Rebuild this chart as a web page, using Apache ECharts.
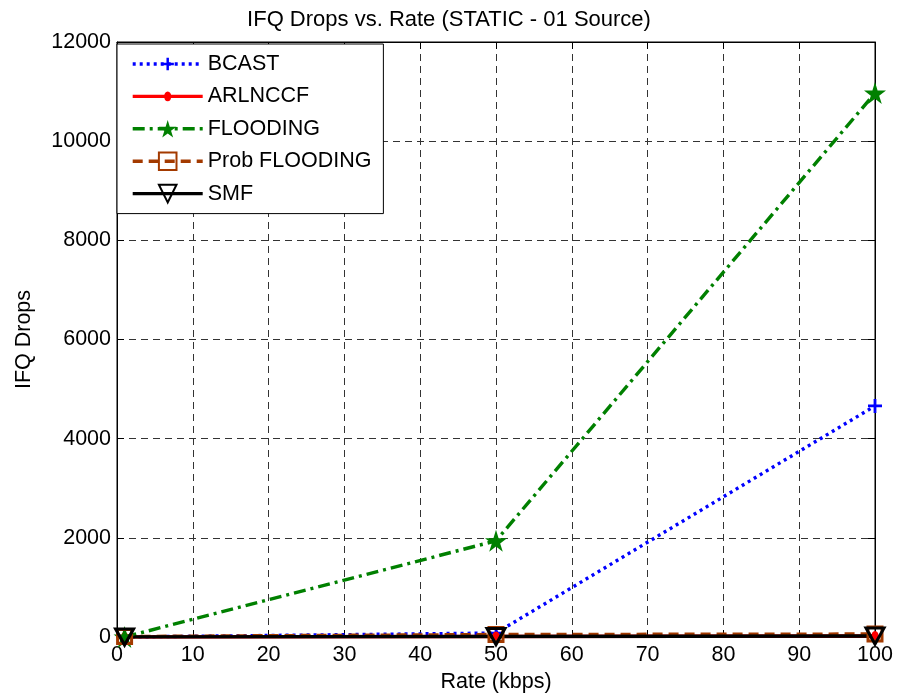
<!DOCTYPE html>
<html>
<head>
<meta charset="utf-8">
<title>IFQ Drops vs. Rate</title>
<script src="https://cdn.jsdelivr.net/npm/echarts@6/dist/echarts.min.js"></script>
<style>
  html, body { margin: 0; padding: 0; background: #fff; }
  #chart { width: 898px; height: 698px; }
</style>
</head>
<body>
<div id="chart"></div>
<script>
// Rate values (kbps) at which drops were measured
const rates = [1, 50, 100];

// IFQ drop counts per protocol
const bcast = [0, 80, 4660];
const arlnccf = [0, 10, 20];
const flooding = [0, 1940, 10970];
const probFlooding = [10, 50, 60];
const smf = [0, 10, 20];

const xTicks = { min: 0, max: 100, interval: 10 };
const yTicks = { min: 0, max: 12000, interval: 2000 };

const FONT = 'Liberation Sans, Arial, sans-serif';
const FS = 21.5;
const LW = 3.4;

// Marker shapes (the extra move-to points pad the bounding box so the
// visible glyph stays small relative to the symbol size)
const plusPath = 'path://M-10,-10M10,10M-1.4,-7H1.4V-1.4H7V1.4H1.4V7H-1.4V1.4H-7V-1.4H-1.4Z';
const dotPath = 'path://M-10,-10M10,10M0,-5.5C2.6,-5.5 4,-3 4,0C4,3 2.6,5.5 0,5.5C-2.6,5.5 -4,3 -4,0C-4,-3 -2.6,-5.5 0,-5.5Z';
const starPath = (function () {
  const pts = [];
  for (let i = 0; i < 10; i++) {
    const r = i % 2 === 0 ? 10 : 3.8;
    const a = -Math.PI / 2 + i * Math.PI / 5;
    pts.push((r * Math.cos(a)).toFixed(3) + ',' + (r * Math.sin(a)).toFixed(3));
  }
  return 'path://M' + pts.join('L') + 'Z';
})();

function pairs(ys) {
  return rates.map((x, i) => [x, ys[i]]);
}

const chart = echarts.init(document.getElementById('chart'), null, { renderer: 'canvas' });

const axisCommon = {
  axisLine: { show: true, onZero: false, lineStyle: { color: '#000', width: 1 } },
  axisTick: { show: true, inside: true, length: 7, lineStyle: { color: '#000' } },
};

chart.setOption({
  animation: false,
  backgroundColor: '#fff',
  textStyle: { fontFamily: FONT },
  title: {
    text: 'IFQ Drops vs. Rate (STATIC - 01 Source)',
    left: 'center',
    top: 4,
    textStyle: { fontFamily: FONT, fontSize: 22, fontWeight: 'normal', color: '#000' }
  },
  grid: {
    left: 117, right: 23, top: 42, bottom: 61,
    show: true, borderColor: '#000', borderWidth: 1, backgroundColor: '#fff'
  },
  legend: {
    orient: 'vertical',
    left: 117,
    top: 44,
    padding: [9, 12, 9, 14],
    itemWidth: 70,
    itemHeight: 22,
    itemGap: 10.4,
    lineStyle: { width: LW },
    backgroundColor: '#fff',
    borderColor: '#000',
    borderWidth: 1,
    textStyle: { fontFamily: FONT, fontSize: FS, color: '#000', lineHeight: 22 },
    data: ['BCAST', 'ARLNCCF', 'FLOODING', 'Prob FLOODING', 'SMF']
  },
  xAxis: [
    Object.assign({
      type: 'value', position: 'bottom',
      min: xTicks.min, max: xTicks.max, interval: xTicks.interval,
      name: 'Rate (kbps)', nameLocation: 'middle', nameGap: 34,
      nameTextStyle: { fontFamily: FONT, fontSize: FS, color: '#000' },
      axisLabel: { color: '#000', fontFamily: FONT, fontSize: FS, margin: 7 },
      splitLine: { show: true, lineStyle: { color: '#333', width: 1, type: [7, 5] } }
    }, axisCommon),
    Object.assign({
      type: 'value', position: 'top',
      min: xTicks.min, max: xTicks.max, interval: xTicks.interval,
      axisLabel: { show: false }, splitLine: { show: false }
    }, axisCommon)
  ],
  yAxis: [
    Object.assign({
      type: 'value', position: 'left',
      min: yTicks.min, max: yTicks.max, interval: yTicks.interval,
      name: 'IFQ Drops', nameLocation: 'middle', nameGap: 82,
      nameTextStyle: { fontFamily: FONT, fontSize: FS, color: '#000' },
      axisLabel: { color: '#000', fontFamily: FONT, fontSize: FS, margin: 6, formatter: v => String(v) },
      splitLine: { show: true, lineStyle: { color: '#333', width: 1, type: [7, 5] } }
    }, axisCommon),
    Object.assign({
      type: 'value', position: 'right',
      min: yTicks.min, max: yTicks.max, interval: yTicks.interval,
      axisLabel: { show: false }, splitLine: { show: false }
    }, axisCommon)
  ],
  series: [
    {
      name: 'BCAST', type: 'line', data: pairs(bcast),
      symbol: plusPath, symbolSize: 20,
      lineStyle: { color: '#0000ff', width: LW, type: [3, 4] },
      itemStyle: { color: '#0000ff' }
    },
    {
      name: 'ARLNCCF', type: 'line', data: pairs(arlnccf),
      symbol: dotPath, symbolSize: 18,
      lineStyle: { color: '#ff0000', width: LW, type: 'solid' },
      itemStyle: { color: '#ff0000' }
    },
    {
      name: 'FLOODING', type: 'line', data: pairs(flooding),
      symbol: starPath, symbolSize: 22,
      lineStyle: { color: '#008000', width: LW, type: [12, 5, 3, 5] },
      itemStyle: { color: '#008000' }
    },
    {
      name: 'Prob FLOODING', type: 'line', data: pairs(probFlooding),
      symbol: 'rect', symbolSize: 14,
      lineStyle: { color: '#a33a00', width: LW, type: [10, 6] },
      itemStyle: { color: 'rgba(0,0,0,0)', borderColor: '#a33a00', borderWidth: 3 }
    },
    {
      name: 'SMF', type: 'line', data: pairs(smf),
      symbol: 'triangle', symbolRotate: 180, symbolSize: [18, 16],
      lineStyle: { color: '#000', width: LW, type: 'solid' },
      itemStyle: { color: 'rgba(0,0,0,0)', borderColor: '#000', borderWidth: 3 }
    }
  ]
});
</script>
</body>
</html>
